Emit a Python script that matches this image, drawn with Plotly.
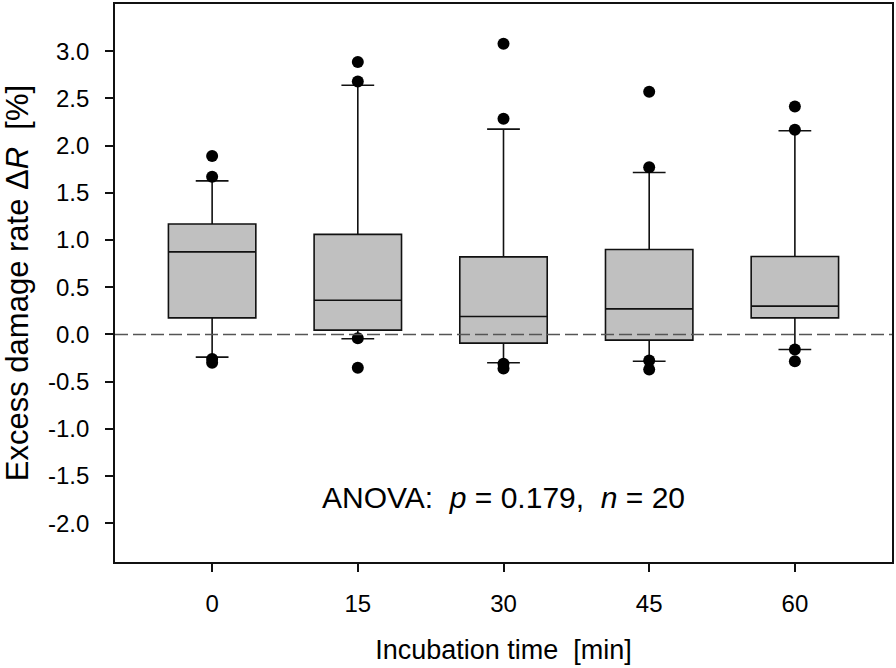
import plotly.graph_objects as go

# Incubation time categories [min]
times = [0, 15, 30, 45, 60]

# Box statistics (excess damage rate, %)
q1 = [0.176, 0.046, -0.092, -0.060, 0.176]
median = [0.875, 0.363, 0.190, 0.271, 0.300]
q3 = [1.170, 1.060, 0.822, 0.900, 0.826]
lower_whisker = [-0.240, -0.046, -0.300, -0.283, -0.159]
upper_whisker = [1.627, 2.640, 2.175, 1.716, 2.157]

# Outlying points per group
outlier_x = [0, 0, 0, 0,
             15, 15, 15, 15,
             30, 30, 30, 30,
             45, 45, 45, 45,
             60, 60, 60, 60]
outlier_y = [1.889, 1.670, -0.260, -0.300,
             2.885, 2.680, -0.040, -0.353,
             3.080, 2.284, -0.310, -0.360,
             2.570, 1.772, -0.275, -0.370,
             2.415, 2.167, -0.160, -0.283]

y_ticks = [-2.0, -1.5, -1.0, -0.5, 0.0, 0.5, 1.0, 1.5, 2.0, 2.5, 3.0]
y_ticktext = ["-2.0", "-1.5", "-1.0", "-0.5", "0.0", "0.5", "1.0", "1.5", "2.0", "2.5", "3.0"]

FONT = "Arial, Liberation Sans, sans-serif"
NB = "\u00a0"

fig = go.Figure()

fig.add_trace(
    go.Box(
        x=times,
        q1=q1,
        median=median,
        q3=q3,
        lowerfence=lower_whisker,
        upperfence=upper_whisker,
        width=9,
        whiskerwidth=0.375,
        fillcolor="#c0c0c0",
        line=dict(color="#111111", width=1.6),
        boxpoints=False,
        showlegend=False,
        hoverinfo="skip",
    )
)

fig.add_trace(
    go.Scatter(
        x=outlier_x,
        y=outlier_y,
        mode="markers",
        marker=dict(color="black", size=12),
        showlegend=False,
        hoverinfo="skip",
    )
)

# Zero reference line
fig.add_hline(y=0, line=dict(color="#555555", width=1.5, dash="13px,5px"), layer="above")

fig.add_annotation(
    x=30,
    y=-1.73,
    text=f"ANOVA:{NB}{NB}<i>p</i> = 0.179,{NB}{NB}<i>n</i> = 20",
    showarrow=False,
    font=dict(family=FONT, size=30, color="black"),
)

fig.update_layout(
    width=896,
    height=668,
    margin=dict(l=115, r=3, t=2, b=106),
    plot_bgcolor="white",
    paper_bgcolor="white",
    font=dict(family=FONT, color="black"),
    xaxis=dict(
        range=[-10, 70],
        tickvals=times,
        ticktext=[str(t) for t in times],
        ticks="outside",
        ticklen=8,
        tickwidth=1.5,
        tickcolor="#111111",
        tickfont=dict(size=24),
        ticklabelstandoff=11,
        showline=True,
        linecolor="#111111",
        linewidth=1.6,
        mirror=True,
        showgrid=False,
        zeroline=False,
        title=dict(text=f"Incubation time{NB}{NB}[min]", font=dict(size=27), standoff=25),
    ),
    yaxis=dict(
        range=[-2.41, 3.5],
        tickvals=y_ticks,
        ticktext=y_ticktext,
        ticks="outside",
        ticklen=8,
        tickwidth=1.5,
        tickcolor="#111111",
        tickfont=dict(size=24),
        ticklabelstandoff=11,
        showline=True,
        linecolor="#111111",
        linewidth=1.6,
        mirror=True,
        showgrid=False,
        zeroline=False,
        title=dict(text=f"Excess damage rate Δ<i>R</i>{NB}{NB}[%]", font=dict(size=31), standoff=12),
    ),
)

fig.write_html(
    "out.html",
    config={"displayModeBar": False},
    post_script="document.body.style.margin='0';",
)
